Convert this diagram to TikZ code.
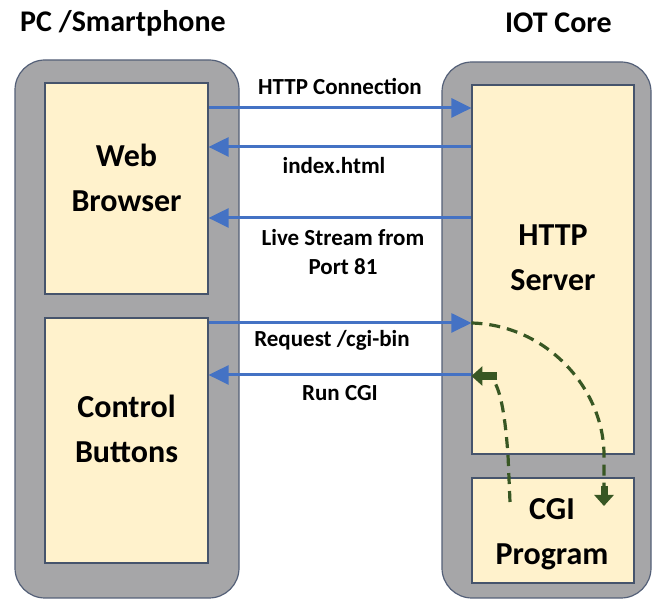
\documentclass[tikz,border=0pt]{standalone}
\usepackage{fontspec}
\setmainfont{Carlito}
\usetikzlibrary{arrows.meta}

\definecolor{shell}{RGB}{166,166,168}
\definecolor{shelledge}{RGB}{84,96,120}
\definecolor{panel}{RGB}{255,242,204}
\definecolor{panedge}{RGB}{70,84,108}
\definecolor{link}{RGB}{68,114,196}
\definecolor{cgigreen}{RGB}{56,87,35}

\begin{document}
\begin{tikzpicture}[x=1pt,y=-1pt,
  shellbox/.style={draw=shelledge, fill=shell, line width=1.2pt, rounded corners=30pt, inner sep=0pt},
  panelbox/.style={draw=panedge, fill=panel, line width=1.2pt, inner sep=0pt},
  title/.style={font=\fontsize{30}{36}\selectfont\bfseries, inner sep=0pt, anchor=base},
  boxlabel/.style={font=\fontsize{32}{45}\selectfont\bfseries, align=center, inner sep=0pt, anchor=base},
  linklabel/.style={font=\fontsize{23}{29}\selectfont\bfseries, align=center, inner sep=0pt, anchor=base},
  flow/.style={draw=link, line width=3pt, -{Triangle[length=20pt,width=19pt]}},
  cgiflow/.style={draw=cgigreen, line width=3.2pt, dash pattern=on 11pt off 7pt},
  cgihead/.style={draw=cgigreen, fill=cgigreen, -{Triangle[length=11pt,width=19pt]}}
]
\useasboundingbox (0,0) rectangle (654,601);

% device outlines
\node[shellbox, minimum width=224pt, minimum height=538pt] (pc) at (127,329) {};
\node[shellbox, minimum width=209pt, minimum height=536pt] (iot) at (546.5,330) {};

% inner blocks
\node[panelbox, minimum width=163pt, minimum height=211pt] (web) at (126.5,188.5) {};
\node[panelbox, minimum width=163pt, minimum height=245pt] (ctrl) at (126.5,440.5) {};
\node[panelbox, minimum width=162pt, minimum height=369pt] (http) at (553,269.5) {};
\node[panelbox, minimum width=162pt, minimum height=105pt] (cgi) at (553,530.5) {};

% headings
\node[title] (pctitle) at (123,32) {PC /Smartphone};
\node[title] (iottitle) at (558.5,33) {IOT Core};

% block captions (base anchor sits on the last line)
\node[boxlabel] (webtxt) at (126.5,212) {Web\\Browser};
\node[boxlabel] (ctrltxt) at (126.5,463) {Control\\Buttons};
\node[boxlabel] (httptxt) at (553,291) {HTTP\\Server};
\node[boxlabel] (cgitxt) at (552,565) {CGI\\Program};

% message rows
\coordinate (row1) at (0,108);
\coordinate (row2) at (0,147);
\coordinate (row3) at (0,218);
\coordinate (row4) at (0,323);
\coordinate (row5) at (0,375);

\draw[flow] (web.east |- row1) -- (http.west |- row1);
\draw[flow] (http.west |- row2) -- (web.east |- row2);
\draw[flow] (http.west |- row3) -- (web.east |- row3);
\draw[flow] (ctrl.east |- row4) -- (http.west |- row4);
\draw[flow] (http.west |- row5) -- (ctrl.east |- row5);

\node[linklabel] (l1) at (340,94.5) {HTTP Connection};
\node[linklabel] (l2) at (334,173.5) {index.html};
\node[linklabel] (l3) at (343,274.5) {Live Stream from\\Port 81};
\node[linklabel] (l4) at (332,347) {Request /cgi-bin};
\node[linklabel] (l5) at (340,400.5) {Run CGI};

% CGI hand-off between server and program
\coordinate (reqin) at (http.west |- row4);
\coordinate (godown) at (604,486);
\coordinate (cgitip) at (604,506);
\coordinate (cgiout) at (510,502);
\coordinate (backup) at (497,376);
\coordinate (runtip) at (http.west |- 0,376);

\draw[cgiflow] (reqin) .. controls (548,325) and (604,390) .. (604,455) -- (godown);
\draw[cgihead, line width=7pt] (godown) -- (cgitip);
\draw[cgiflow] (cgiout) -- (508,455) .. controls (505,415) and (501,393) .. (494,381);
\draw[cgihead, line width=8pt] (backup) -- (runtip);
\end{tikzpicture}
\end{document}
